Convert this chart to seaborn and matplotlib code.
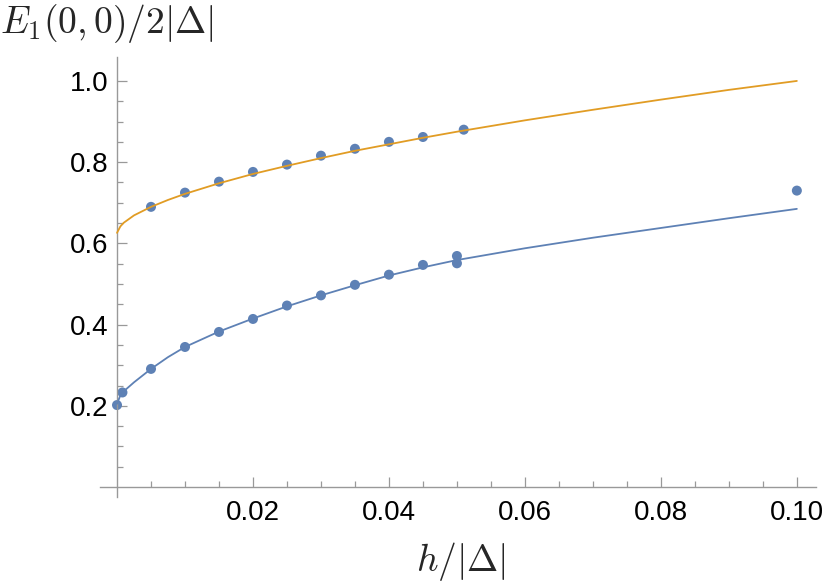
import matplotlib
matplotlib.use("Agg")
import matplotlib.pyplot as plt
import matplotlib.ticker as mtick
import seaborn as sns
import pandas as pd

# Data points (dots)
lower_h = [0, 0.0008, 0.005, 0.01, 0.015, 0.02, 0.025, 0.03, 0.035, 0.04, 0.045, 0.05, 0.05, 0.1]
lower_E = [0.202, 0.233, 0.291, 0.345, 0.382, 0.414, 0.447, 0.472, 0.498, 0.523, 0.547, 0.551, 0.569, 0.730]
upper_h = [0.005, 0.01, 0.015, 0.02, 0.025, 0.03, 0.035, 0.04, 0.045, 0.051]
upper_E = [0.690, 0.725, 0.752, 0.776, 0.794, 0.816, 0.833, 0.850, 0.862, 0.880]

# Fitted curves
curve_h = [0, 0.0005, 0.001, 0.0025, 0.005, 0.0075, 0.01, 0.015, 0.02, 0.025,
           0.03, 0.035, 0.04, 0.045, 0.05, 0.06, 0.07, 0.08, 0.09, 0.1]
curve_lower = [0.205, 0.226, 0.236, 0.258, 0.291, 0.320, 0.345, 0.383, 0.415, 0.445,
               0.472, 0.497, 0.521, 0.541, 0.559, 0.588, 0.614, 0.638, 0.662, 0.685]
curve_upper = [0.626, 0.642, 0.651, 0.669, 0.690, 0.707, 0.722, 0.748, 0.771, 0.791,
               0.810, 0.828, 0.844, 0.860, 0.875, 0.903, 0.929, 0.954, 0.978, 1.0]

x_major = [0.02, 0.04, 0.06, 0.08, 0.10]
x_labels = ["0.02", "0.04", "0.06", "0.08", "0.10"]
y_major = [0.2, 0.4, 0.6, 0.8, 1.0]
y_labels = ["0.2", "0.4", "0.6", "0.8", "1.0"]

blue = "#5E81B5"
orange = "#E19C24"
axis_gray = "#999999"

sns.set_style("white")
plt.rcParams["font.family"] = ["Liberation Sans", "DejaVu Sans"]
plt.rcParams["mathtext.fontset"] = "cm"

dots = pd.DataFrame({"h": lower_h + upper_h, "E": lower_E + upper_E})
curves = pd.DataFrame({"h": curve_h, "lower": curve_lower, "upper": curve_upper})

fig = plt.figure(figsize=(8.3, 5.85), dpi=100)
ax = fig.add_axes([0.1205, 0.150, 0.8625, 0.7526])

sns.scatterplot(data=dots, x="h", y="E", color=blue, s=52, edgecolor="none", ax=ax, zorder=2)
sns.lineplot(data=curves, x="h", y="upper", color=orange, linewidth=1.3, ax=ax, zorder=3)
sns.lineplot(data=curves, x="h", y="lower", color=blue, linewidth=1.3, ax=ax, zorder=3)

ax.set_xlim(-0.0025, 0.1028)
ax.set_ylim(-0.025, 1.059)

for side in ["top", "right"]:
    ax.spines[side].set_visible(False)
for side in ["left", "bottom"]:
    ax.spines[side].set_position(("data", 0))
    ax.spines[side].set_color(axis_gray)
    ax.spines[side].set_linewidth(1.0)

ax.xaxis.set_major_locator(mtick.FixedLocator(x_major))
ax.set_xticklabels(x_labels)
ax.xaxis.set_minor_locator(mtick.FixedLocator([0.005 * i for i in range(1, 21) if i % 4 != 0]))
ax.yaxis.set_major_locator(mtick.FixedLocator(y_major))
ax.set_yticklabels(y_labels)
ax.yaxis.set_minor_locator(mtick.FixedLocator([0.05 * i for i in range(1, 21) if i % 4 != 0]))

# seaborn's white style switches ticks off, turn them back on
ax.tick_params(which="both", bottom=True, left=True, top=False, right=False,
               direction="in", color=axis_gray, width=0.9, labelsize=20, labelcolor="black")
ax.tick_params(which="major", length=7)
ax.tick_params(which="minor", length=4)
ax.tick_params(axis="x", which="major", pad=9)
ax.tick_params(axis="y", which="major", pad=6)

ax.set_xlabel("")
ax.set_ylabel("")

fig.text(0.0, 1 - 2 / 585, r"$E_1(0,0)/2|\Delta|$", ha="left", va="top", fontsize=27)
fig.text(461 / 830, 2 / 585, r"$h/|\Delta|$", ha="center", va="bottom", fontsize=27)

fig.savefig("out.png", dpi=100)
